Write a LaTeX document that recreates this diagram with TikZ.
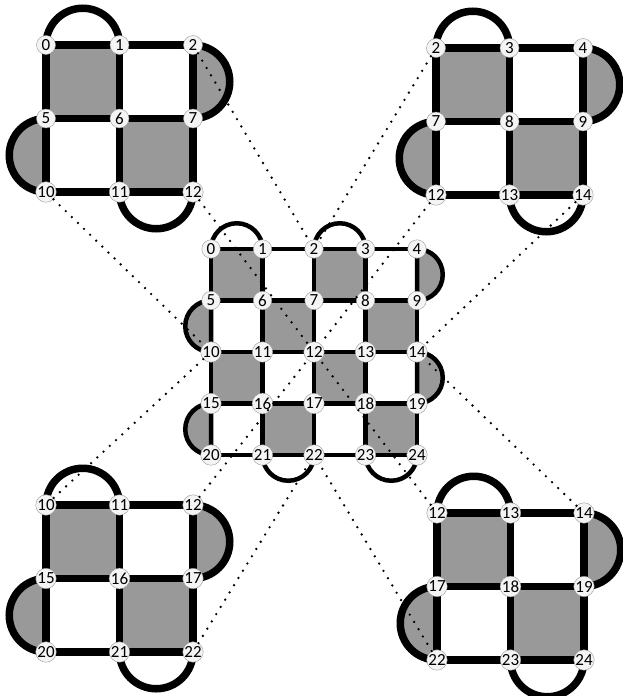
\documentclass[tikz,border=0pt]{standalone}
\usepackage{fontspec}
\setmainfont{Carlito}
\usepackage{xcolor}
\definecolor{facegray}{RGB}{153,153,153}
\definecolor{vertexfill}{RGB}{244,244,244}
\pgfdeclarelayer{bg}
\pgfsetlayers{bg,main}

% one patch of the board: name, x, y, step, first row, first col, cells, line width, vertex size
\newcommand{\knotpatch}[9]{%
  \pgfmathtruncatemacro\rowend{#5+#7}%
  \pgfmathtruncatemacro\colend{#6+#7}%
  \pgfmathtruncatemacro\rowlast{\rowend-1}%
  \pgfmathtruncatemacro\collast{\colend-1}%
  \pgfmathsetmacro\rad{#4/2}%
  % Vertices
  \foreach \r in {#5,...,\rowend}{%
    \foreach \c in {#6,...,\colend}{%
      \pgfmathtruncatemacro\k{5*\r+\c}%
      \node[vertex, minimum size=#9] (#1\k) at ({#2+#4*(\c-#6)},{-#3-#4*(\r-#5)}) {\k};
    }%
  }%
  \begin{pgfonlayer}{bg}
    % Shaded squares
    \foreach \r in {#5,...,\rowlast}{%
      \foreach \c in {#6,...,\collast}{%
        \pgfmathtruncatemacro\k{5*\r+\c}%
        \pgfmathtruncatemacro\kk{\k+6}%
        \ifodd\numexpr\r+\c\relax\else
          \fill[facegray] (#1\k.center) rectangle (#1\kk.center);
        \fi
      }%
    }%
    % Half discs, left and right
    \foreach \r in {#5,...,\rowlast}{%
      \pgfmathtruncatemacro\k{5*\r+#6}%
      \pgfmathtruncatemacro\kk{5*\r+\colend}%
      \ifodd\numexpr\r+#6\relax
        \filldraw[fill=facegray, line width=#8] (#1\k.center) arc (90:270:\rad) -- cycle;
      \fi
      \ifodd\numexpr\r+\collast\relax
        \filldraw[fill=facegray, line width=#8] (#1\kk.center) arc (90:-90:\rad) -- cycle;
      \fi
    }%
    % Loops, top and bottom
    \foreach \c in {#6,...,\collast}{%
      \pgfmathtruncatemacro\k{5*#5+\c}%
      \pgfmathtruncatemacro\kk{5*\rowend+\c}%
      \ifodd\numexpr#5+\c\relax\else
        \draw[line width=#8] (#1\k.center) arc (180:0:\rad);
      \fi
      \ifodd\numexpr\rowlast+\c\relax\else
        \draw[line width=#8] (#1\kk.center) arc (180:360:\rad);
      \fi
    }%
    % Grid lines
    \foreach \r in {#5,...,\rowend}{%
      \pgfmathtruncatemacro\k{5*\r+#6}%
      \pgfmathtruncatemacro\kk{5*\r+\colend}%
      \draw[line width=#8] (#1\k.center) -- (#1\kk.center);
    }%
    \foreach \c in {#6,...,\colend}{%
      \pgfmathtruncatemacro\k{5*#5+\c}%
      \pgfmathtruncatemacro\kk{5*\rowend+\c}%
      \draw[line width=#8] (#1\k.center) -- (#1\kk.center);
    }%
  \end{pgfonlayer}
}

\begin{document}
\begin{tikzpicture}[x=1pt, y=1pt,
    vertex/.style={circle, draw=black!40, thin, fill=vertexfill, inner sep=0pt,
      font=\fontsize{17}{17}\selectfont},
    projline/.style={line width=2.6pt, line cap=round, dash pattern=on 0pt off 8.5pt}]
  \useasboundingbox (0,0) rectangle (622,-696);

  % Corner patches
  \knotpatch{tl}{46}{45}{73.5}{0}{0}{2}{7.5pt}{19pt}
  \knotpatch{tr}{436}{48}{73.5}{0}{2}{2}{7.5pt}{19pt}
  \knotpatch{bl}{46}{505}{73.5}{2}{0}{2}{7.5pt}{19pt}
  \knotpatch{br}{437}{513}{73.5}{2}{2}{2}{7.5pt}{19pt}

  % Centre board
  \knotpatch{c}{211}{249}{51.5}{0}{0}{4}{4.5pt}{18.5pt}

  % Projection lines
  \foreach \g/\k in {tl/2, tl/10, tl/12, tr/2, tr/12, tr/14,
                     bl/10, bl/12, bl/22, br/12, br/14, br/22}
    \draw[projline] (\g\k) -- (c\k);
\end{tikzpicture}
\end{document}
